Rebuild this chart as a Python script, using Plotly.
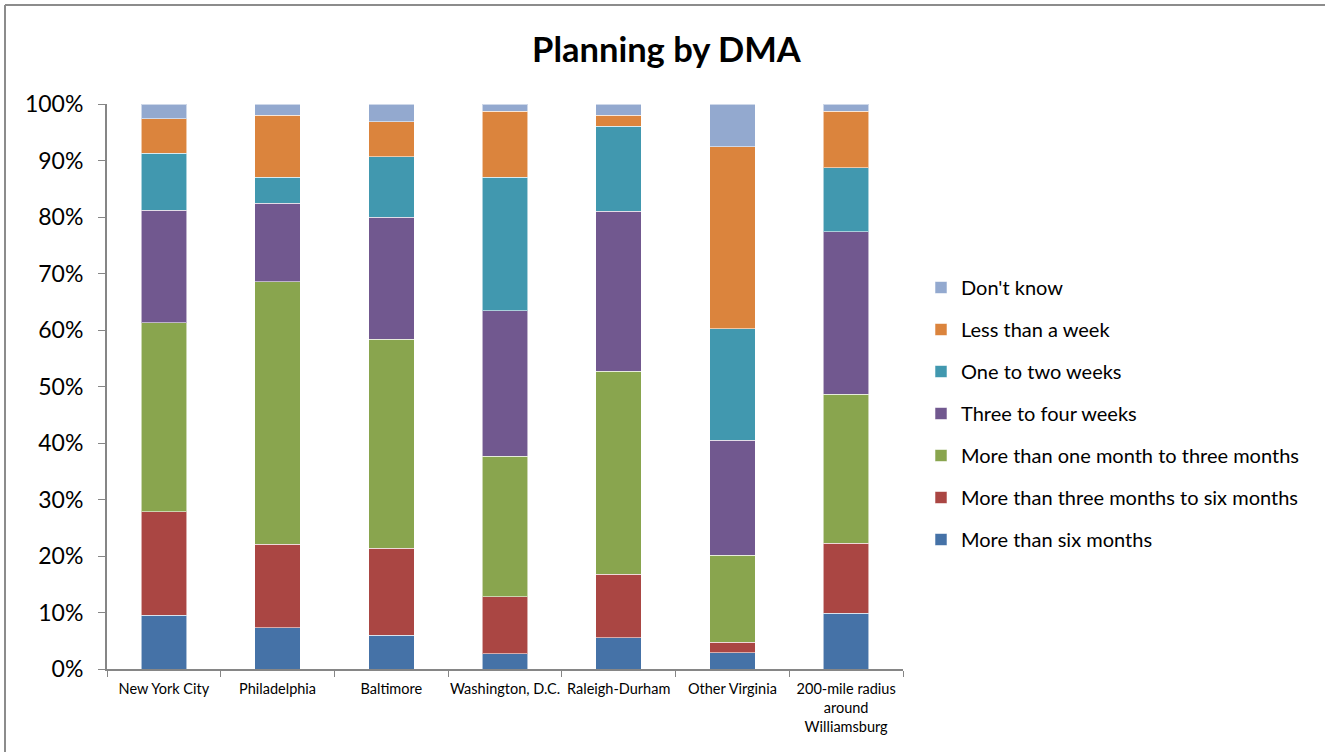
import plotly.graph_objects as go

categories = ["New York City", "Philadelphia", "Baltimore", "Washington, D.C.",
              "Raleigh-Durham", "Other Virginia", "200-mile radius<br>around<br>Williamsburg"]

more_than_six_months = [9.5, 7.3, 6.0, 2.7, 5.5, 2.9, 9.9]
three_to_six_months = [18.3, 14.8, 15.4, 10.1, 11.3, 1.8, 12.4]
one_to_three_months = [33.5, 46.4, 37.0, 24.9, 35.9, 15.4, 26.3]
three_to_four_weeks = [19.9, 13.9, 21.6, 25.7, 28.3, 20.4, 28.8]
one_to_two_weeks = [10.1, 4.6, 10.7, 23.6, 15.1, 19.7, 11.3]
less_than_a_week = [6.1, 11.0, 6.2, 11.7, 1.9, 32.2, 10.0]
dont_know = [2.6, 2.0, 3.1, 1.3, 2.0, 7.6, 1.3]

series = [
    ("More than six months", more_than_six_months, "#4572A7"),
    ("More than three months to six months", three_to_six_months, "#AA4643"),
    ("More than one month to three months", one_to_three_months, "#89A54E"),
    ("Three to four weeks", three_to_four_weeks, "#71588F"),
    ("One to two weeks", one_to_two_weeks, "#4198AF"),
    ("Less than a week", less_than_a_week, "#DB843D"),
    ("Don't know", dont_know, "#93A9CF"),
]

FONT = "Lato"
fig = go.Figure()
n = len(series)
for i, (name, vals, color) in enumerate(series):
    fig.add_trace(go.Bar(
        x=categories, y=vals, name=name, legendgroup=name, legendrank=n - i,
        marker=dict(color=color, line=dict(color="rgba(255,255,255,0.55)", width=1)),
    ))

W, H = 1325, 752
ml, mr, mt, mb = 107, 422, 104, 83
pw = W - ml - mr
ph = H - mt - mb

def px_to_paper_x(px):
    return (px - ml) / pw

def px_to_paper_y(py):
    return (H - mb - py) / ph

border = dict(color="#8c8c8c", width=2)
fig.add_shape(type="line", xref="paper", yref="paper",
              x0=px_to_paper_x(5), x1=px_to_paper_x(5),
              y0=px_to_paper_y(760), y1=px_to_paper_y(5), line=border)
fig.add_shape(type="line", xref="paper", yref="paper",
              x0=px_to_paper_x(5), x1=px_to_paper_x(1330),
              y0=px_to_paper_y(5), y1=px_to_paper_y(5), line=border)

fig.update_layout(
    width=W, height=H,
    barmode="stack", bargap=0.6,
    margin=dict(l=ml, r=mr, t=mt, b=mb, autoexpand=False),
    paper_bgcolor="white", plot_bgcolor="white",
    font=dict(family=FONT, color="black"),
    title=dict(text="<b>Planning by DMA</b>", x=0.503, xanchor="center",
               y=1 - 50 / H, yanchor="middle", font=dict(size=34.5, family=FONT)),
    legend=dict(x=px_to_paper_x(921), y=px_to_paper_y(268), xanchor="left", yanchor="top",
                traceorder="grouped", tracegroupgap=13,
                font=dict(size=20, family=FONT), itemwidth=30),
    xaxis=dict(showline=True, linecolor="#868686", linewidth=2, tickangle=0,
               automargin=False, ticklabelstandoff=6,
               ticks="outside", tickson="boundaries", ticklen=6, tickcolor="#868686",
               tickfont=dict(size=14.5, family=FONT), showgrid=False),
    yaxis=dict(range=[0, 100], dtick=10, ticksuffix="%", showline=True, automargin=False,
               linecolor="#868686", linewidth=2, ticks="outside", ticklen=7,
               tickcolor="#868686", tickfont=dict(size=23, family=FONT),
               showgrid=False, zeroline=False, ticklabelstandoff=10),
)

fig.write_html("out.html")
